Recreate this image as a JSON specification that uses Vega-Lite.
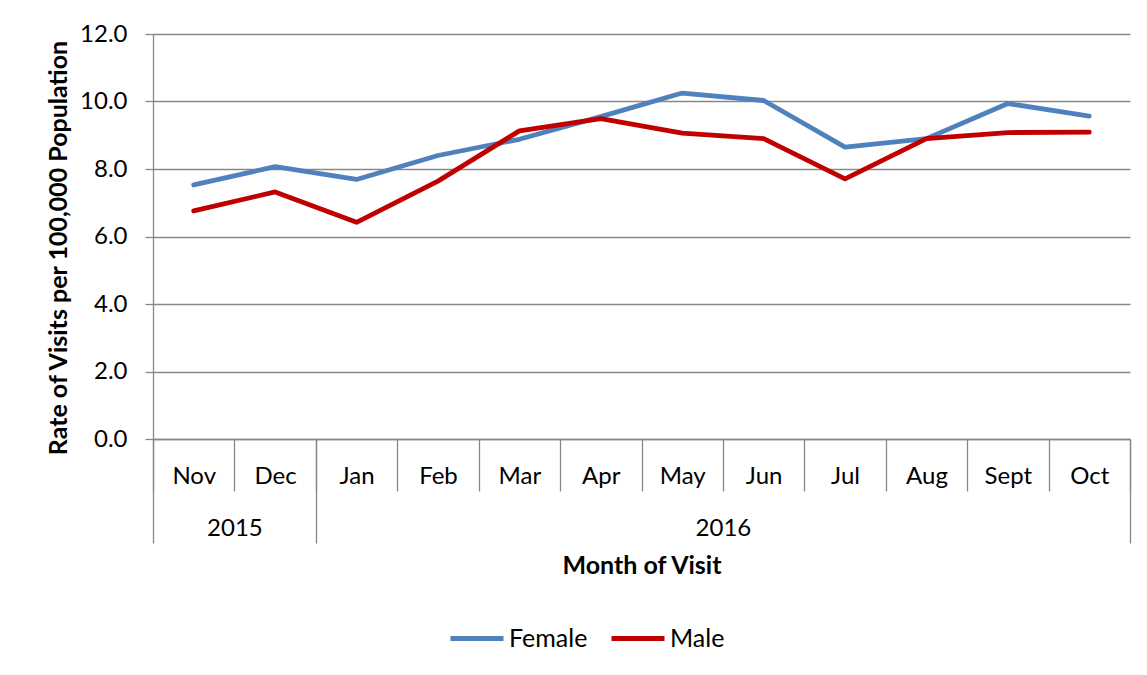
{
  "$schema": "https://vega.github.io/schema/vega-lite/v6.json",
  "width": 977,
  "height": 405,
  "autosize": {"type": "none"},
  "padding": {"left": 153, "top": 34, "right": 17, "bottom": 236},
  "background": "white",
  "config": {
    "font": "Lato",
    "view": {"stroke": null},
    "axis": {"labelColor": "#000000", "titleColor": "#000000", "labelFontSize": 24, "titleFontSize": 25}
  },
  "data": {
    "values": [
      {"m": 0, "month": "Nov", "year": "2015", "sex": "Female", "rate": 7.53},
      {"m": 1, "month": "Dec", "year": "2015", "sex": "Female", "rate": 8.07},
      {"m": 2, "month": "Jan", "year": "2016", "sex": "Female", "rate": 7.69},
      {"m": 3, "month": "Feb", "year": "2016", "sex": "Female", "rate": 8.40},
      {"m": 4, "month": "Mar", "year": "2016", "sex": "Female", "rate": 8.88},
      {"m": 5, "month": "Apr", "year": "2016", "sex": "Female", "rate": 9.55},
      {"m": 6, "month": "May", "year": "2016", "sex": "Female", "rate": 10.25},
      {"m": 7, "month": "Jun", "year": "2016", "sex": "Female", "rate": 10.03},
      {"m": 8, "month": "Jul", "year": "2016", "sex": "Female", "rate": 8.65},
      {"m": 9, "month": "Aug", "year": "2016", "sex": "Female", "rate": 8.90},
      {"m": 10, "month": "Sept", "year": "2016", "sex": "Female", "rate": 9.94},
      {"m": 11, "month": "Oct", "year": "2016", "sex": "Female", "rate": 9.57},
      {"m": 0, "month": "Nov", "year": "2015", "sex": "Male", "rate": 6.76},
      {"m": 1, "month": "Dec", "year": "2015", "sex": "Male", "rate": 7.32},
      {"m": 2, "month": "Jan", "year": "2016", "sex": "Male", "rate": 6.42},
      {"m": 3, "month": "Feb", "year": "2016", "sex": "Male", "rate": 7.64},
      {"m": 4, "month": "Mar", "year": "2016", "sex": "Male", "rate": 9.13},
      {"m": 5, "month": "Apr", "year": "2016", "sex": "Male", "rate": 9.49},
      {"m": 6, "month": "May", "year": "2016", "sex": "Male", "rate": 9.06},
      {"m": 7, "month": "Jun", "year": "2016", "sex": "Male", "rate": 8.90},
      {"m": 8, "month": "Jul", "year": "2016", "sex": "Male", "rate": 7.71},
      {"m": 9, "month": "Aug", "year": "2016", "sex": "Male", "rate": 8.90},
      {"m": 10, "month": "Sept", "year": "2016", "sex": "Male", "rate": 9.08},
      {"m": 11, "month": "Oct", "year": "2016", "sex": "Male", "rate": 9.09}
    ]
  },
  "layer": [
    {
      "mark": {"type": "line", "strokeWidth": 4.8, "strokeCap": "round", "strokeJoin": "round"},
      "encoding": {
        "x": {
          "field": "m", "type": "quantitative",
          "scale": {"domain": [-0.5, 11.5], "nice": false, "zero": false},
          "axis": {
            "orient": "bottom",
            "values": [-0.5, 0.5, 1.5, 2.5, 3.5, 4.5, 5.5, 6.5, 7.5, 8.5, 9.5, 10.5, 11.5],
            "labels": false, "ticks": true, "tickSize": 52, "tickColor": "#888888", "tickWidth": 1.3,
            "domain": true, "domainColor": "#888888", "domainWidth": 1.3, "grid": false, "title": null
          }
        },
        "y": {
          "field": "rate", "type": "quantitative",
          "scale": {"domain": [0, 12], "nice": false, "zero": true},
          "axis": {
            "values": [0, 2, 4, 6, 8, 10, 12],
            "format": ".1f",
            "grid": true, "gridColor": "#888888", "gridWidth": 1.3,
            "domain": true, "domainColor": "#888888", "domainWidth": 1.3,
            "ticks": true, "tickColor": "#888888", "tickWidth": 1.3, "tickSize": 8,
            "labelPadding": 18, "labelFontSize": 24,
            "title": "Rate of Visits per 100,000 Population",
            "titleFontSize": 25, "titleFontWeight": "bold",
            "titleAngle": 270, "titleBaseline": "alphabetic", "titleAlign": "center",
            "titleX": -87, "titleY": 213.5
          }
        },
        "color": {
          "field": "sex", "type": "nominal",
          "scale": {"domain": ["Female", "Male"], "range": ["#4F81BD", "#C00000"]},
          "legend": {
            "orient": "none", "legendX": 295, "legendY": 575.5,
            "direction": "horizontal", "title": null,
            "symbolType": "stroke", "symbolSize": 2809, "symbolStrokeWidth": 5,
            "labelFontSize": 25, "labelColor": "#000000", "labelOffset": 3,
            "columnPadding": 13, "padding": 0
          }
        }
      }
    },
    {
      "mark": {"type": "point", "opacity": 0},
      "encoding": {
        "x": {
          "field": "m", "type": "quantitative",
          "scale": {"domain": [-0.5, 11.5], "nice": false, "zero": false},
          "axis": {
            "orient": "bottom",
            "values": [0, 1, 2, 3, 4, 5, 6, 7, 8, 9, 10, 11],
            "labelExpr": "['Nov','Dec','Jan','Feb','Mar','Apr','May','Jun','Jul','Aug','Sept','Oct'][datum.value]",
            "ticks": false, "domain": false, "grid": false,
            "labelPadding": 25, "labelFontSize": 24, "labelFlush": false, "labelOverlap": false, "labelBound": false,
            "title": "Month of Visit", "titleFontSize": 25, "titleFontWeight": "bold",
            "titleBaseline": "alphabetic", "titleAlign": "center", "titleX": 488.5, "titleY": 134
          }
        }
      }
    },
    {
      "mark": {"type": "point", "opacity": 0},
      "encoding": {
        "x": {
          "field": "m", "type": "quantitative",
          "scale": {"domain": [-0.5, 11.5], "nice": false, "zero": false},
          "axis": {
            "orient": "bottom",
            "values": [-0.5, 1.5, 11.5],
            "labels": false, "ticks": true, "tickSize": 104, "tickColor": "#888888", "tickWidth": 1.3,
            "domain": false, "grid": false, "title": null
          }
        }
      }
    },
    {
      "mark": {"type": "point", "opacity": 0},
      "encoding": {
        "x": {
          "field": "m", "type": "quantitative",
          "scale": {"domain": [-0.5, 11.5], "nice": false, "zero": false},
          "axis": {
            "orient": "bottom",
            "values": [0.5, 6.5],
            "labelExpr": "datum.value < 1 ? '2015' : '2016'",
            "ticks": false, "domain": false, "grid": false,
            "labelPadding": 77, "labelFontSize": 24, "labelFlush": false, "labelOverlap": false, "labelBound": false,
            "title": null
          }
        }
      }
    }
  ],
  "resolve": {"axis": {"x": "independent"}}
}
